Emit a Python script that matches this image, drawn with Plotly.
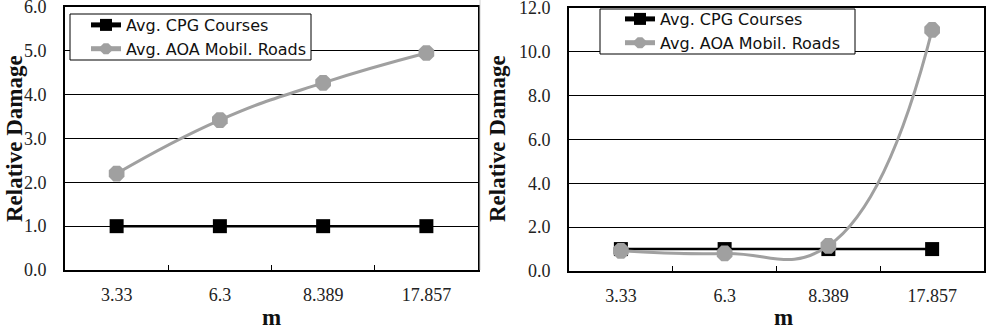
import plotly.graph_objects as go

categories = ["3.33", "6.3", "8.389", "17.857"]
left_cpg = [1.0, 1.0, 1.0, 1.0]
left_aoa = [2.2, 3.42, 4.27, 4.95]
right_cpg = [1.0, 1.0, 1.0, 1.0]
right_aoa = [0.92, 0.8, 1.15, 11.0]
series_names = ["Avg. CPG Courses", "Avg. AOA Mobil. Roads"]
y_title = "Relative Damage"
x_title = "m"

BLACK = "#000000"
GREY = "#a0a0a0"
W, H = 1000, 332

fig = go.Figure()

def add_pair(xa, ya, cpg, aoa, legend):
    fig.add_trace(go.Scatter(
        x=categories, y=cpg, name=series_names[0], xaxis=xa, yaxis=ya, legend=legend,
        mode="lines+markers", line=dict(color=BLACK, width=2.5),
        marker=dict(symbol="square", size=14, color=BLACK)))
    fig.add_trace(go.Scatter(
        x=categories, y=aoa, name=series_names[1], xaxis=xa, yaxis=ya, legend=legend,
        mode="lines+markers", line=dict(color=GREY, width=3, shape="spline", smoothing=1.3),
        marker=dict(symbol="octagon", size=17, color=GREY)))

add_pair("x", "y", left_cpg, left_aoa, "legend")
add_pair("x2", "y2", right_cpg, right_aoa, "legend2")

tickfont = dict(family="Liberation Serif", size=18, color="#222222")
xcommon = dict(type="category", showline=True, linewidth=2, linecolor=BLACK, mirror=True,
               ticks="inside", tickson="boundaries", ticklen=5, tickcolor=BLACK,
               showgrid=False, tickfont=tickfont, ticklabelstandoff=7,
               range=[-0.5, 3.5], automargin=False)
ycommon = dict(showline=True, linewidth=2, linecolor=BLACK, mirror=True,
               ticks="", showgrid=True, gridcolor=BLACK, gridwidth=1,
               zeroline=False, tickfont=tickfont, tickformat=".1f",
               ticklabelstandoff=13, ticklabeloverflow="allow", automargin=False)

legfont = dict(family="DejaVu Sans", size=16, color="#111111")
fig.update_layout(
    width=W, height=H,
    margin=dict(l=0, r=0, t=0, b=0, autoexpand=False),
    paper_bgcolor="white", plot_bgcolor="white",
    showlegend=True,
    xaxis=dict(domain=[65 / W, 478 / W], anchor="y", **xcommon),
    yaxis=dict(domain=[1 - 270 / H, 1 - 7 / H], anchor="x", range=[0, 6], dtick=1, **ycommon),
    xaxis2=dict(domain=[569 / W, 984 / W], anchor="y2", **xcommon),
    yaxis2=dict(domain=[1 - 271 / H, 1 - 8 / H], anchor="x2", range=[0, 12], dtick=2, **ycommon),
    legend=dict(x=86 / W, y=1 - 8 / H, xanchor="left", yanchor="top",
                bgcolor="rgba(0,0,0,0)", borderwidth=0, itemsizing="constant",
                font=legfont),
    legend2=dict(x=620 / W, y=1 - 2 / H, xanchor="left", yanchor="top",
                 bgcolor="rgba(0,0,0,0)", borderwidth=0, itemsizing="constant",
                 font=legfont),
)

# legend frames
for x0, x1, y0, y1 in [(70, 311, 14, 60), (600, 855, 9, 54)]:
    fig.add_shape(type="rect", xref="paper", yref="paper", layer="above",
                  x0=x0 / W, x1=x1 / W, y0=1 - y1 / H, y1=1 - y0 / H,
                  fillcolor="white", line=dict(color=BLACK, width=1))

fig.add_shape(type="line", xref="paper", yref="paper", x0=480 / W, x1=480 / W,
              y0=1 - 270 / H, y1=1, line=dict(color="#d0d0d0", width=1))

title_font = dict(family="Liberation Serif", size=23, color="#111111")
for xc, yc in [(14, 139), (497, 139)]:
    fig.add_annotation(text="<b>" + y_title + "</b>", x=xc / W, y=1 - yc / H,
                       xref="paper", yref="paper", textangle=-90, showarrow=False,
                       font=title_font, xanchor="center", yanchor="middle")
for xc in [271, 783]:
    fig.add_annotation(text="<b>" + x_title + "</b>", x=xc / W, y=0,
                       xref="paper", yref="paper", showarrow=False,
                       font=title_font, xanchor="center", yanchor="bottom")

fig.write_html("out.html", config={"displayModeBar": False},
               post_script="document.body.style.margin='0';document.body.style.padding='0';")
